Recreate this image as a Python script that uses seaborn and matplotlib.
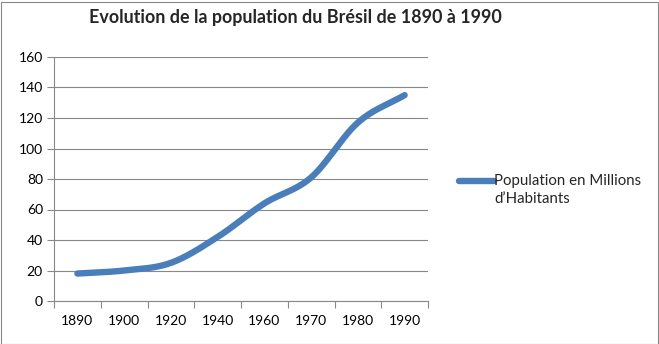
import numpy as np
import pandas as pd
import matplotlib
matplotlib.use("Agg")
import matplotlib.pyplot as plt
from matplotlib.legend_handler import HandlerLine2D
import seaborn as sns

years = ["1890", "1900", "1920", "1940", "1960", "1970", "1980", "1990"]
population = [18, 20, 25, 42, 64, 81, 117, 135]
series_label = "Population en Millions\nd\u2019Habitants"
title = "Evolution de la population du Brésil de 1890 à 1990"
y_ticks = [0, 20, 40, 60, 80, 100, 120, 140, 160]

sns.set_theme(style="white")
plt.rcParams['font.family'] = ['Lato', 'DejaVu Sans']

W, H = 659, 344
fig = plt.figure(figsize=(W / 100, H / 100), dpi=100)
ax = fig.add_axes([54 / W, 1 - 301 / H, (428 - 54) / W, (301 - 57) / H])

# Smooth display curve (Catmull-Rom through the data points, like Excel's smoothed line)
idx = np.arange(len(years), dtype=float)
vals = np.array(population, dtype=float)
px = np.concatenate([[2 * idx[0] - idx[1]], idx, [2 * idx[-1] - idx[-2]]])
py = np.concatenate([[2 * vals[0] - vals[1]], vals, [2 * vals[-1] - vals[-2]]])
cx, cy = [], []
t = np.linspace(0, 1, 30, endpoint=False)
for i in range(1, len(px) - 2):
    p0, p1, p2, p3 = (np.array([px[j], py[j]]) for j in (i - 1, i, i + 1, i + 2))
    for tt in t:
        pt = 0.5 * ((2 * p1) + (-p0 + p2) * tt + (2 * p0 - 5 * p1 + 4 * p2 - p3) * tt ** 2
                    + (-p0 + 3 * p1 - 3 * p2 + p3) * tt ** 3)
        cx.append(pt[0]); cy.append(pt[1])
cx.append(idx[-1]); cy.append(vals[-1])
curve = pd.DataFrame({"x": cx, "y": cy})

sns.lineplot(data=curve, x="x", y="y", ax=ax, color="#4A7EBB", linewidth=4.6,
             solid_capstyle="round", label=series_label, sort=False)

ax.set_xlim(-0.5, len(years) - 0.5)
ax.set_ylim(0, 160)
ax.set_yticks(y_ticks)
ax.set_xticks(idx)
ax.set_xticklabels(years)
ax.set_xticks(np.arange(-0.5, len(years)), minor=True)
ax.set_xlabel("")
ax.set_ylabel("")
ax.grid(axis="y", color="#888888", linewidth=0.8)
ax.set_axisbelow(True)
for s in ["top", "right"]:
    ax.spines[s].set_visible(False)
for s in ["left", "bottom"]:
    ax.spines[s].set_color("#888888")
    ax.spines[s].set_linewidth(0.8)
ax.tick_params(axis="x", which="major", length=0, pad=10, labelsize=10, colors="black")
ax.tick_params(axis="x", which="minor", length=5, color="#888888", width=0.8, direction="out", bottom=True)
ax.tick_params(axis="y", length=5, color="#888888", width=0.8, direction="out", left=True,
               pad=3, labelsize=10, colors="black")


class UpperLine(HandlerLine2D):
    def create_artists(self, legend, orig_handle, xdescent, ydescent, width, height, fontsize, trans):
        arts = super().create_artists(legend, orig_handle, xdescent, ydescent, width, height, fontsize, trans)
        for a in arts:
            a.set_ydata(np.asarray(a.get_ydata()) + 6.5)
        return arts


handles, labels = ax.get_legend_handles_labels()
leg = ax.legend(handles, labels, loc="center left", bbox_to_anchor=(453 / W, 1 - 190 / H),
                bbox_transform=fig.transFigure, frameon=False, fontsize=10.8, handlelength=2.3,
                handletextpad=0.05, borderaxespad=0, handler_map={handles[0]: UpperLine()})
for txt in leg.get_texts():
    txt.set_linespacing(1.35)

fig.text(295 / W, 1 - 18 / H, title, ha="center", va="center", fontsize=12.9, fontweight="bold")

# outer chart border
fig.patches.append(matplotlib.patches.Rectangle((0.5 / W, 0.5 / H), (W - 2) / W, (H - 2) / H,
                   transform=fig.transFigure, fill=False, edgecolor="#888888", linewidth=0.8))

fig.savefig("out.png", dpi=100)
